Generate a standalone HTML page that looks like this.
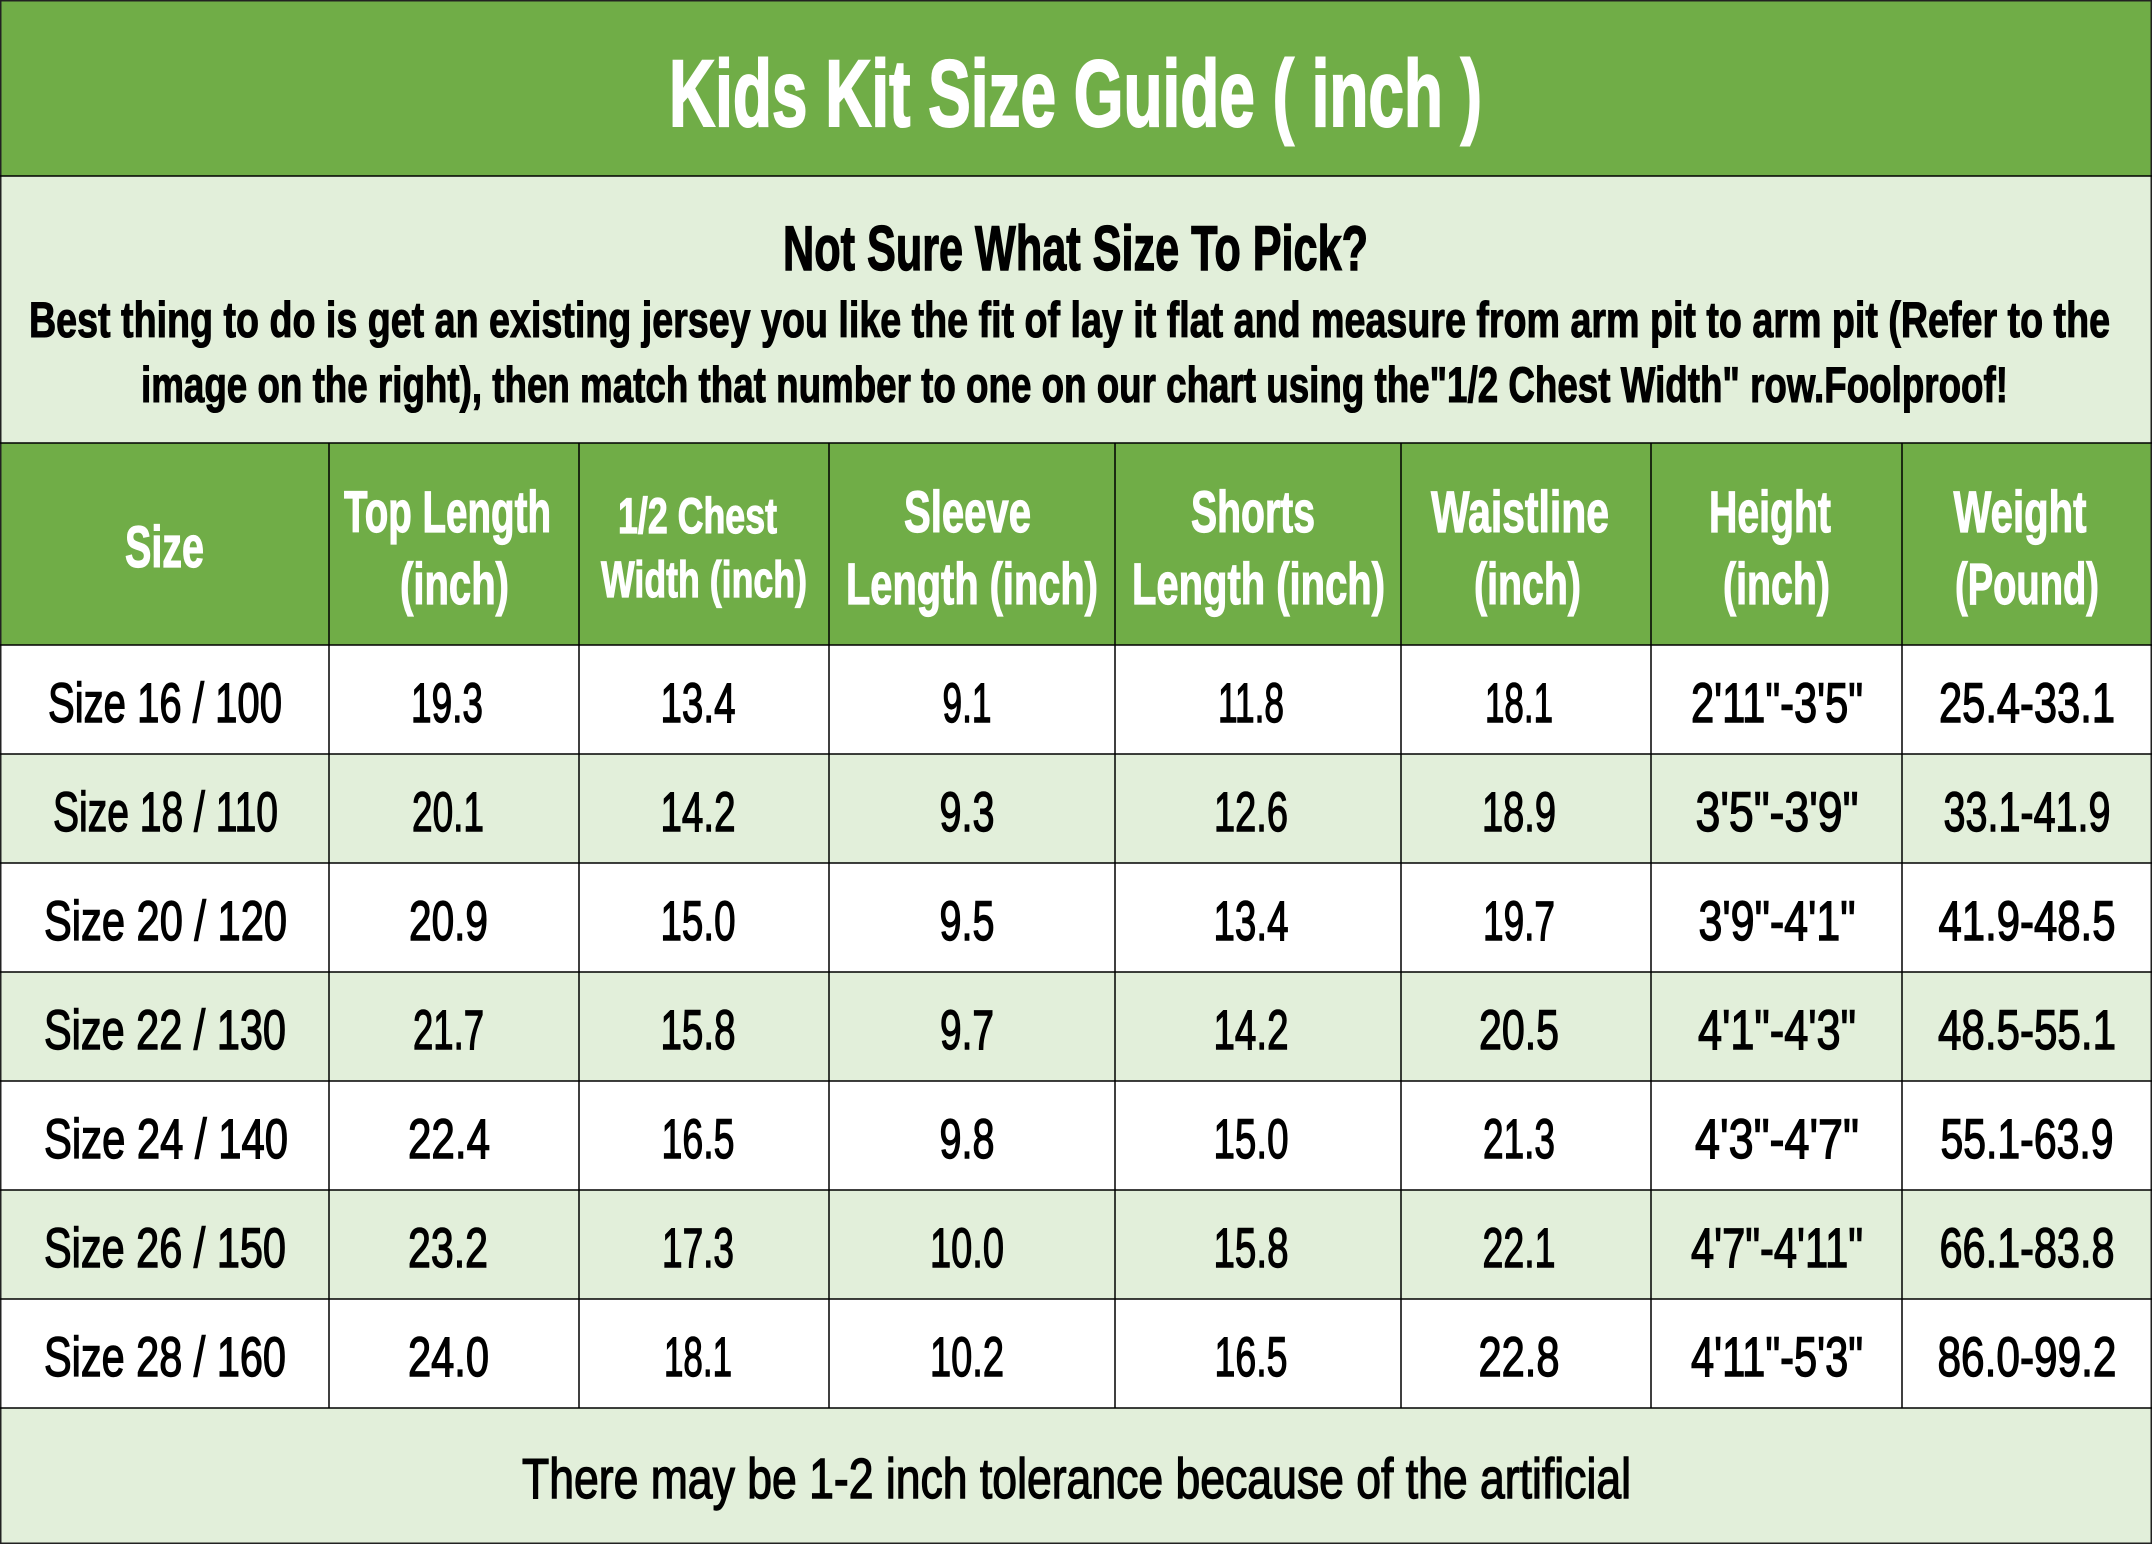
<!DOCTYPE html>
<html>
<head>
<meta charset="utf-8">
<style>
  html, body { margin:0; padding:0; background:#fff; }
  body { width:2152px; height:1544px; overflow:hidden; }
  svg { display:block; }
  .b { font-family:"Liberation Sans", "DejaVu Sans", sans-serif; font-weight:bold; }
  .r { font-family:"Liberation Sans", "DejaVu Sans", sans-serif; font-weight:normal; fill:#000; stroke:#000; stroke-width:1.4; }
</style>
</head>
<body>
<svg width="2152" height="1544" viewBox="0 0 2152 1544" xmlns="http://www.w3.org/2000/svg">
  <!-- backgrounds -->
  <rect x="0" y="0" width="2152" height="176" fill="#70AD47"/>
  <rect x="0" y="176" width="2152" height="267" fill="#E2EFDA"/>
  <rect x="0" y="443" width="2152" height="202" fill="#70AD47"/>
  <rect x="0" y="645" width="2152" height="109" fill="#FFFFFF"/>
  <rect x="0" y="754" width="2152" height="109" fill="#E2EFDA"/>
  <rect x="0" y="863" width="2152" height="109" fill="#FFFFFF"/>
  <rect x="0" y="972" width="2152" height="109" fill="#E2EFDA"/>
  <rect x="0" y="1081" width="2152" height="109" fill="#FFFFFF"/>
  <rect x="0" y="1190" width="2152" height="109" fill="#E2EFDA"/>
  <rect x="0" y="1299" width="2152" height="109" fill="#FFFFFF"/>
  <rect x="0" y="1408" width="2152" height="136" fill="#E2EFDA"/>

  <!-- grid lines -->
  <g stroke="#000" stroke-width="1.5" fill="none">
    <rect x="0.75" y="0.75" width="2150.5" height="1542.5" stroke="#222"/>
    <line x1="0" y1="176" x2="2152" y2="176"/>
    <line x1="0" y1="443" x2="2152" y2="443"/>
    <line x1="0" y1="645" x2="2152" y2="645"/>
    <line x1="0" y1="754" x2="2152" y2="754"/>
    <line x1="0" y1="863" x2="2152" y2="863"/>
    <line x1="0" y1="972" x2="2152" y2="972"/>
    <line x1="0" y1="1081" x2="2152" y2="1081"/>
    <line x1="0" y1="1190" x2="2152" y2="1190"/>
    <line x1="0" y1="1299" x2="2152" y2="1299"/>
    <line x1="0" y1="1408" x2="2152" y2="1408"/>
    <line x1="329" y1="443" x2="329" y2="1408"/>
    <line x1="579" y1="443" x2="579" y2="1408"/>
    <line x1="829" y1="443" x2="829" y2="1408"/>
    <line x1="1115" y1="443" x2="1115" y2="1408"/>
    <line x1="1401" y1="443" x2="1401" y2="1408"/>
    <line x1="1651" y1="443" x2="1651" y2="1408"/>
    <line x1="1902" y1="443" x2="1902" y2="1408"/>
  </g>

  <!-- title -->
  <text class="b" x="1075.5" y="126" font-size="95" fill="#fff" stroke="#fff" stroke-width="2" text-anchor="middle" textLength="813" lengthAdjust="spacingAndGlyphs">Kids Kit Size Guide ( inch )</text>

  <!-- sub header -->
  <text class="b" x="1075.5" y="270" font-size="63" fill="#000" stroke="#000" stroke-width="1.4" text-anchor="middle" textLength="585" lengthAdjust="spacingAndGlyphs">Not Sure What Size To Pick?</text>
  <text class="b" x="1069.5" y="337" font-size="50" fill="#000" stroke="#000" stroke-width="1.1" text-anchor="middle" textLength="2081" lengthAdjust="spacingAndGlyphs">Best thing to do is get an existing jersey you like the fit of lay it flat and measure from arm pit to arm pit (Refer to the</text>
  <text class="b" x="1074.5" y="402" font-size="50" fill="#000" stroke="#000" stroke-width="1.1" text-anchor="middle" textLength="1867" lengthAdjust="spacingAndGlyphs">image on the right), then match that number to one on our chart using the"1/2 Chest Width" row.Foolproof!</text>

  <!-- column headers -->
  <g class="b" fill="#fff" stroke="#fff" stroke-width="1.2" text-anchor="middle">
    <text x="164.5" y="567" font-size="58" textLength="79" lengthAdjust="spacingAndGlyphs">Size</text>

    <text x="447.5" y="532" font-size="58" textLength="207" lengthAdjust="spacingAndGlyphs">Top Length</text>
    <text x="454.5" y="604" font-size="58" textLength="109" lengthAdjust="spacingAndGlyphs">(inch)</text>

    <text x="697.5" y="533" font-size="50" textLength="159" lengthAdjust="spacingAndGlyphs">1/2 Chest</text>
    <text x="704" y="597" font-size="51" textLength="206" lengthAdjust="spacingAndGlyphs">Width (inch)</text>

    <text x="967.5" y="532" font-size="58" textLength="127" lengthAdjust="spacingAndGlyphs">Sleeve</text>
    <text x="972" y="604" font-size="58" textLength="252" lengthAdjust="spacingAndGlyphs">Length (inch)</text>

    <text x="1253" y="532" font-size="58" textLength="124" lengthAdjust="spacingAndGlyphs">Shorts</text>
    <text x="1258.5" y="604" font-size="58" textLength="253" lengthAdjust="spacingAndGlyphs">Length (inch)</text>

    <text x="1520" y="532" font-size="58" textLength="178" lengthAdjust="spacingAndGlyphs">Waistline</text>
    <text x="1527.5" y="604" font-size="58" textLength="107" lengthAdjust="spacingAndGlyphs">(inch)</text>

    <text x="1770" y="532" font-size="58" textLength="122" lengthAdjust="spacingAndGlyphs">Height</text>
    <text x="1776.5" y="604" font-size="58" textLength="107" lengthAdjust="spacingAndGlyphs">(inch)</text>

    <text x="2020" y="532" font-size="58" textLength="133" lengthAdjust="spacingAndGlyphs">Weight</text>
    <text x="2027" y="604" font-size="58" textLength="144" lengthAdjust="spacingAndGlyphs">(Pound)</text>
  </g>

  <!-- data -->
  <g class="r" font-size="56" text-anchor="middle">
    <!-- row 1 -->
    <text x="165" y="722" textLength="234" lengthAdjust="spacingAndGlyphs">Size 16 / 100</text>
    <text x="447" y="722" textLength="72" lengthAdjust="spacingAndGlyphs">19.3</text>
    <text x="698" y="722" textLength="75" lengthAdjust="spacingAndGlyphs">13.4</text>
    <text x="967" y="722" textLength="49" lengthAdjust="spacingAndGlyphs">9.1</text>
    <text x="1251" y="722" textLength="66" lengthAdjust="spacingAndGlyphs">11.8</text>
    <text x="1519" y="722" textLength="68" lengthAdjust="spacingAndGlyphs">18.1</text>
    <text x="1777" y="722" textLength="172" lengthAdjust="spacingAndGlyphs">2'11"-3'5"</text>
    <text x="2027" y="722" textLength="176" lengthAdjust="spacingAndGlyphs">25.4-33.1</text>
    <!-- row 2 -->
    <text x="165.5" y="831" textLength="225" lengthAdjust="spacingAndGlyphs">Size 18 / 110</text>
    <text x="448" y="831" textLength="72" lengthAdjust="spacingAndGlyphs">20.1</text>
    <text x="698" y="831" textLength="75" lengthAdjust="spacingAndGlyphs">14.2</text>
    <text x="967" y="831" textLength="55" lengthAdjust="spacingAndGlyphs">9.3</text>
    <text x="1251" y="831" textLength="74" lengthAdjust="spacingAndGlyphs">12.6</text>
    <text x="1519" y="831" textLength="74" lengthAdjust="spacingAndGlyphs">18.9</text>
    <text x="1777" y="831" textLength="163" lengthAdjust="spacingAndGlyphs">3'5"-3'9"</text>
    <text x="2027" y="831" textLength="167" lengthAdjust="spacingAndGlyphs">33.1-41.9</text>
    <!-- row 3 -->
    <text x="165.5" y="940" textLength="243" lengthAdjust="spacingAndGlyphs">Size 20 / 120</text>
    <text x="448.5" y="940" textLength="79" lengthAdjust="spacingAndGlyphs">20.9</text>
    <text x="698" y="940" textLength="75" lengthAdjust="spacingAndGlyphs">15.0</text>
    <text x="967" y="940" textLength="55" lengthAdjust="spacingAndGlyphs">9.5</text>
    <text x="1251" y="940" textLength="75" lengthAdjust="spacingAndGlyphs">13.4</text>
    <text x="1519" y="940" textLength="72" lengthAdjust="spacingAndGlyphs">19.7</text>
    <text x="1777" y="940" textLength="157" lengthAdjust="spacingAndGlyphs">3'9"-4'1"</text>
    <text x="2027" y="940" textLength="177" lengthAdjust="spacingAndGlyphs">41.9-48.5</text>
    <!-- row 4 -->
    <text x="165" y="1049" textLength="242" lengthAdjust="spacingAndGlyphs">Size 22 / 130</text>
    <text x="448.5" y="1049" textLength="71" lengthAdjust="spacingAndGlyphs">21.7</text>
    <text x="698" y="1049" textLength="75" lengthAdjust="spacingAndGlyphs">15.8</text>
    <text x="967" y="1049" textLength="54" lengthAdjust="spacingAndGlyphs">9.7</text>
    <text x="1251" y="1049" textLength="75" lengthAdjust="spacingAndGlyphs">14.2</text>
    <text x="1519" y="1049" textLength="80" lengthAdjust="spacingAndGlyphs">20.5</text>
    <text x="1777" y="1049" textLength="158" lengthAdjust="spacingAndGlyphs">4'1"-4'3"</text>
    <text x="2027" y="1049" textLength="178" lengthAdjust="spacingAndGlyphs">48.5-55.1</text>
    <!-- row 5 -->
    <text x="166" y="1158" textLength="244" lengthAdjust="spacingAndGlyphs">Size 24 / 140</text>
    <text x="449" y="1158" textLength="82" lengthAdjust="spacingAndGlyphs">22.4</text>
    <text x="698" y="1158" textLength="73" lengthAdjust="spacingAndGlyphs">16.5</text>
    <text x="967" y="1158" textLength="55" lengthAdjust="spacingAndGlyphs">9.8</text>
    <text x="1251" y="1158" textLength="75" lengthAdjust="spacingAndGlyphs">15.0</text>
    <text x="1519" y="1158" textLength="72" lengthAdjust="spacingAndGlyphs">21.3</text>
    <text x="1777" y="1158" textLength="164" lengthAdjust="spacingAndGlyphs">4'3"-4'7"</text>
    <text x="2027" y="1158" textLength="173" lengthAdjust="spacingAndGlyphs">55.1-63.9</text>
    <!-- row 6 -->
    <text x="165" y="1267" textLength="242" lengthAdjust="spacingAndGlyphs">Size 26 / 150</text>
    <text x="448" y="1267" textLength="80" lengthAdjust="spacingAndGlyphs">23.2</text>
    <text x="698" y="1267" textLength="72" lengthAdjust="spacingAndGlyphs">17.3</text>
    <text x="967" y="1267" textLength="74" lengthAdjust="spacingAndGlyphs">10.0</text>
    <text x="1251" y="1267" textLength="75" lengthAdjust="spacingAndGlyphs">15.8</text>
    <text x="1519" y="1267" textLength="73" lengthAdjust="spacingAndGlyphs">22.1</text>
    <text x="1777" y="1267" textLength="172" lengthAdjust="spacingAndGlyphs">4'7"-4'11"</text>
    <text x="2027" y="1267" textLength="175" lengthAdjust="spacingAndGlyphs">66.1-83.8</text>
    <!-- row 7 -->
    <text x="165" y="1376" textLength="242" lengthAdjust="spacingAndGlyphs">Size 28 / 160</text>
    <text x="448.5" y="1376" textLength="81" lengthAdjust="spacingAndGlyphs">24.0</text>
    <text x="698" y="1376" textLength="68" lengthAdjust="spacingAndGlyphs">18.1</text>
    <text x="967" y="1376" textLength="74" lengthAdjust="spacingAndGlyphs">10.2</text>
    <text x="1251" y="1376" textLength="73" lengthAdjust="spacingAndGlyphs">16.5</text>
    <text x="1519" y="1376" textLength="81" lengthAdjust="spacingAndGlyphs">22.8</text>
    <text x="1777" y="1376" textLength="172" lengthAdjust="spacingAndGlyphs">4'11"-5'3"</text>
    <text x="2027" y="1376" textLength="179" lengthAdjust="spacingAndGlyphs">86.0-99.2</text>
  </g>

  <!-- footer -->
  <text class="r" x="1076.5" y="1498" font-size="57" text-anchor="middle" textLength="1109" lengthAdjust="spacingAndGlyphs">There may be 1-2 inch tolerance because of the artificial</text>
</svg>
</body>
</html>
